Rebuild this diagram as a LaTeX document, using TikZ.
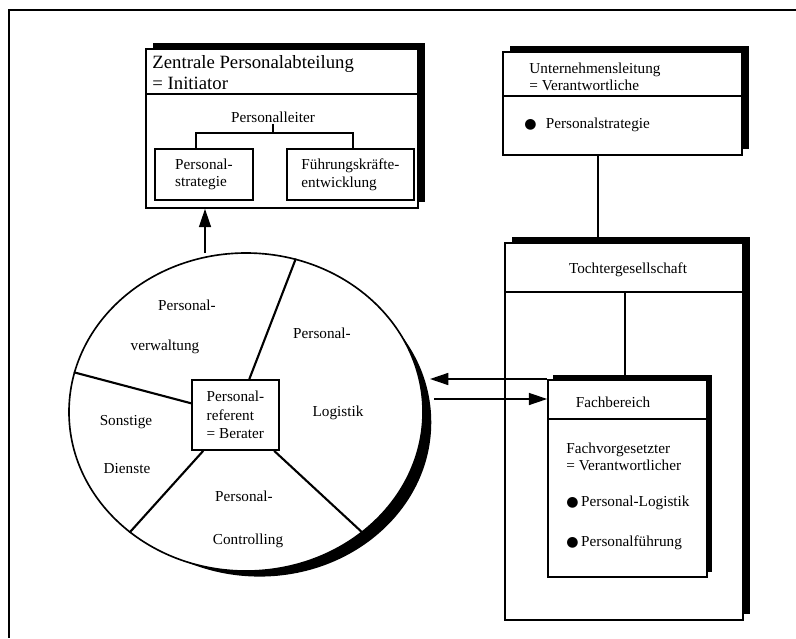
\documentclass[tikz,border=0pt]{standalone}
\usepackage{fontspec}
\setmainfont{Liberation Serif}
\newfontfamily\zeichenfont{DejaVu Sans}
\usetikzlibrary{arrows.meta,shadows,shapes.geometric}

\newcommand{\punkt}{{\zeichenfont\fontsize{12pt}{12pt}\selectfont ●}}

\begin{document}
\begin{tikzpicture}[x=0.3mm, y=-0.3mm,
	every node/.style={font=\fontsize{13pt}{15pt}\selectfont, inner sep=1pt},
	kasten/.style={draw, line width=1.4pt, fill=white, inner sep=0pt},
	schatten/.style={general shadow={fill=black, shadow xshift=2.1mm, shadow yshift=1.8mm}},
	linie/.style={-, line width=1.4pt},
	speiche/.style={-, line width=1.8pt},
	pfeil/.style={-{Triangle[length=5.5mm, width=3.6mm]}, line width=1.4pt}]
	\useasboundingbox (0,0) rectangle (796,638);

	% Rahmen
	\draw [line width=1pt] (796,10) -- (9,10) -- (9,638);

	% Kaesten
	\node (tochter) [kasten, schatten, minimum width=7.14cm, minimum height=11.31cm] at (624,431.5) {};
	\node (fach) [kasten, general shadow={fill=black, shadow xshift=1.5mm, shadow yshift=1.5mm}, minimum width=4.77cm, minimum height=5.91cm] at (627.5,478.5) {};
	\node (unter) [kasten, schatten, minimum width=7.17cm, minimum height=3.09cm] at (622.5,103.5) {};
	\node (zentrale) [kasten, schatten, minimum width=8.16cm, minimum height=4.77cm] at (282,128.5) {};
	\node (strat) [kasten, minimum width=2.94cm, minimum height=1.53cm, align=left] at (204,174.5) {Personal-\\strategie};
	\node (fuehr) [kasten, minimum width=3.81cm, minimum height=1.53cm, align=left] at (350.5,174.5) {Führungskräfte-\\entwicklung};
	\node (kreis) [ellipse, draw, line width=1.4pt, fill=white, inner sep=0pt, minimum width=10.62cm, minimum height=9.54cm, general shadow={fill=black, shadow scale=0.97, shadow xshift=4.2mm, shadow yshift=-3.2mm}] at (246,412) {};
	\node (berater) [kasten, minimum width=2.61cm, minimum height=2.1cm, align=left, font=\fontsize{13pt}{16pt}\selectfont] at (235.5,415) {Personal-\\referent\\= Berater};

	% Texte
	\node (zentraletitel) [anchor=west, align=left, font=\fontsize{16pt}{18pt}\selectfont] at (151,72.5) {Zentrale Personalabteilung\\= Initiator};
	\node (leiter) at (273,117) {Personalleiter};
	\node (untertitel) [anchor=west, align=left, font=\fontsize{13pt}{14.5pt}\selectfont] at (528,76.5) {Unternehmensleitung\\= Verantwortliche};
	\node (unterpunkt) [anchor=west] at (523,125) {\punkt\hspace{0.6em}Personalstrategie};
	\node (tochtertitel) at (628,270) {Tochtergesellschaft};
	\node (fachtitel) at (613,402) {Fachbereich};
	\node (fachleiter) [anchor=west, align=left] at (565,457) {Fachvorgesetzter\\= Verantwortlicher};
	\node (fachpunkt1) [anchor=west] at (565,503) {\punkt\,Personal-Logistik};
	\node (fachpunkt2) [anchor=west] at (565,543) {\punkt\,Personalführung};

	\node (verw1) at (187,305) {Personal-};
	\node (verw2) at (165,347) {verwaltung};
	\node (logi1) at (322,333) {Personal-};
	\node (logi2) at (338,413) {Logistik};
	\node (sonst1) at (126,422) {Sonstige};
	\node (sonst2) at (127,469) {Dienste};
	\node (contr1) at (244,496) {Personal-};
	\node (contr2) at (248,541) {Controlling};

	% Linien
	\coordinate (zkopf) at (0,94);
	\draw [linie] (zentrale.west |- zkopf) to (zentrale.east |- zkopf);
	\coordinate (ast) at (273,133);
	\draw [linie] (leiter) to (ast);
	\draw [linie] ([xshift=-2.4mm]strat.north) |- (ast) -| ([xshift=0.75mm]fuehr.north);

	\coordinate (ukopf) at (0,96);
	\draw [linie] (unter.west |- ukopf) to (unter.east |- ukopf);
	\coordinate (ustrich) at (598,0);
	\draw [linie] (unter.south -| ustrich) to (tochter.north -| ustrich);
	\coordinate (tkopf) at (0,292);
	\draw [linie] (tochter.west |- tkopf) to (tochter.east |- tkopf);
	\coordinate (tstrich) at (625,0);
	\draw [linie] (tkopf -| tstrich) to (fach.north -| tstrich);
	\coordinate (fkopf) at (0,419);
	\draw [linie] (fach.west |- fkopf) to (fach.east |- fkopf);

	\draw [speiche] (berater) to (kreis.72);
	\draw [speiche] (berater) to (kreis.167);
	\draw [speiche] (berater) to (kreis.226);
	\draw [speiche] (berater) to (kreis.314);

	% Pfeile
	\coordinate (kreisoben) at (205,253);
	\draw [pfeil] (kreisoben) to (kreisoben |- zentrale.south);
	\coordinate (kreisrechts1) at (430,379);
	\coordinate (kreisrechts2) at (434,399);
	\draw [pfeil] (kreisrechts1 -| fach.west) to (kreisrechts1);
	\draw [pfeil] (kreisrechts2) to (kreisrechts2 -| fach.west);
\end{tikzpicture}
\end{document}
